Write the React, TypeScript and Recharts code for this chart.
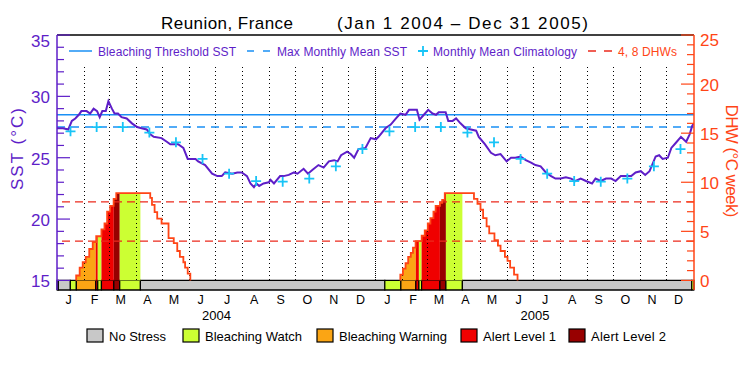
import React from 'react';
import {
  ComposedChart,
  XAxis,
  YAxis,
  Line,
  Area,
  ReferenceLine,
  ReferenceArea,
} from 'recharts';

const FONT = '"Liberation Sans", Arial, sans-serif';
const PURPLE = '#5e1ec8';
const BLUE = '#1a90f5';
const CYAN = '#17c4f7';
const DHW_COLOR = '#ff4516';
const DHW_DASH = '#ec2a1c';

// calendar
const monthLetters = ['J', 'F', 'M', 'A', 'M', 'J', 'J', 'A', 'S', 'O', 'N', 'D'];
const daysInMonth2004 = [31, 29, 31, 30, 31, 30, 31, 31, 30, 31, 30, 31];
const daysInMonth2005 = [31, 28, 31, 30, 31, 30, 31, 31, 30, 31, 30, 31];
const yearLabels = ['2004', '2005'];

// [day since Jan 1 2004, SST °C]
const sstReadings = [
  [0, 27.4], [7, 27.4], [13, 27.3], [17, 28.0], [21, 28.2], [25, 28.5], [28, 28.8], [34, 28.8],
  [38, 28.6], [42, 29.0], [46, 28.8], [49, 28.3], [52, 28.8], [56, 28.8], [59, 29.6], [63, 29.0],
  [66, 28.6], [70, 28.6], [74, 28.3], [80, 28.2], [86, 27.8], [92, 27.5], [97, 27.4], [103, 27.3],
  [107, 26.9], [111, 26.7], [120, 26.6], [126, 26.3], [130, 26.1], [139, 26.1], [145, 25.8], [150, 24.9],
  [159, 24.9], [162, 24.7], [170, 24.4], [178, 23.7], [184, 23.5], [189, 23.5], [193, 23.8], [201, 23.7],
  [207, 23.8], [212, 23.8], [218, 23.5], [222, 22.9], [226, 22.6], [229, 22.9], [232, 22.7], [237, 22.9],
  [243, 23.0], [245, 23.2], [249, 22.9], [256, 23.5], [260, 23.5], [266, 23.6], [272, 23.8], [276, 23.7],
  [283, 24.1], [288, 23.7], [293, 24.0], [300, 24.4], [306, 24.2], [312, 24.7], [318, 24.8], [322, 24.7],
  [326, 25.2], [333, 25.5], [337, 25.3], [341, 25.0], [346, 25.7], [354, 25.8], [360, 26.6], [366, 26.5],
  [369, 26.7], [377, 27.4], [383, 27.7], [389, 28.2], [394, 28.6], [400, 28.5], [404, 28.9], [413, 28.9],
  [416, 28.1], [421, 28.5], [426, 28.9], [431, 28.6], [435, 28.5], [438, 28.7], [446, 28.7], [449, 28.0],
  [454, 28.0], [458, 28.2], [463, 27.8], [469, 27.4], [475, 27.3], [481, 27.2], [484, 26.7], [491, 26.1],
  [498, 25.4], [503, 25.2], [509, 25.3], [516, 24.7], [521, 25.0], [526, 25.0], [532, 25.1], [538, 24.8],
  [544, 24.6], [549, 24.4], [555, 24.3], [561, 23.8], [567, 23.5], [572, 23.3], [578, 23.3], [584, 23.4],
  [590, 23.3], [595, 23.1], [601, 23.3], [607, 23.1], [614, 22.9], [618, 23.3], [624, 23.1], [630, 23.3],
  [636, 23.3], [641, 23.1], [647, 23.5], [653, 23.5], [659, 23.5], [664, 23.8], [670, 23.9], [675, 23.6],
  [680, 23.9], [687, 25.1], [691, 25.2], [695, 24.9], [701, 25.0], [705, 25.8], [710, 26.2], [716, 26.7],
  [722, 26.3], [726, 26.9], [729, 27.6], [731, 27.8],
];

// monthly mean climatology, Jan..Dec
const climatology = [27.15, 27.5, 27.5, 27.05, 26.25, 24.9, 23.7, 23.1, 23.05, 23.3, 24.3, 25.7];
const bleachingThreshold = 28.5;
const maxMonthlyMean = 27.5;
const dhwLevels = [4, 8];

// [day, DHW] held until the next step
const dhwSteps = [
  [0, 0], [22, 0.5], [26, 1.3], [29.5, 1.85], [33, 2.4], [37, 3.2], [41, 3.9], [45, 4.5],
  [51, 5.2], [54.5, 5.8], [57.5, 7.0], [61, 7.6], [65, 8.3], [68, 8.9], [107, 8.4], [109, 7.7],
  [112, 6.95], [115, 6.3], [120, 5.8], [128, 4.3], [134, 3.8], [138, 3.0], [141, 2.4], [145, 1.85],
  [147, 1.3], [150, 0.7], [153, 0],
  [394, 0.6], [397, 1.2], [400, 1.75], [403, 2.4], [406, 2.8], [408.5, 3.35], [411.5, 4.0],
  [418.5, 4.55], [422, 5.1], [425.5, 5.8], [428.5, 6.35], [432, 7.0], [434.5, 7.6], [439.5, 7.9],
  [442, 8.2], [445, 8.9], [478.5, 8.3], [482.5, 7.8], [486, 7.2], [489, 6.35], [493, 5.5],
  [496, 4.8], [502, 4.1], [506, 3.55], [509, 3.0], [514, 2.4], [517, 2.0], [520, 1.3],
  [524.5, 0.6], [528.5, 0],
];

const statusNames = ['No Stress', 'Bleaching Watch', 'Bleaching Warning', 'Alert Level 1', 'Alert Level 2'];
const statusColors = ['#c8c8c8', '#ccff33', '#fba514', '#f00000', '#980000'];
// [start day, status level]
const statusSegments = [
  [0, 1], [1.5, 0], [15.3, 1], [22.2, 2], [44.5, 3], [46.8, 1], [51, 3], [65.2, 4], [72, 1],
  [95.7, 0], [376.2, 1], [394.6, 2], [411.8, 3], [415.3, 1], [418.4, 3], [439.4, 4], [446.3, 1],
  [465.2, 0], [728.4, 1],
];

const SST_DOMAIN = [14.22, 35];
const DHW_DOMAIN = [-0.975, 25];

// derived tables
const monthLengths = [...daysInMonth2004, ...daysInMonth2005];
const monthEdges = monthLengths.reduce((acc, n) => [...acc, acc[acc.length - 1] + n], [0]);
const totalDays = monthEdges[monthEdges.length - 1];
const monthMids = monthLengths.map((n, i) => monthEdges[i] + n / 2);
const yearMids = [monthEdges[12] / 2, (monthEdges[12] + monthEdges[24]) / 2];
const xTicks = [...monthMids, ...yearMids];

const sstData = sstReadings.map(([x, v]) => ({ x, v }));
const climData = monthMids.map((x, i) => ({ x, v: climatology[i % 12] }));

const dhwAt = (x) => {
  let v = 0;
  dhwSteps.forEach(([d, val]) => {
    if (d <= x) v = val;
  });
  return v;
};

// one line per heating event, starting from the zero baseline
const dhwEvents = [];
let current = null;
dhwSteps.forEach(([d, v]) => {
  if (v > 0 && !current) {
    current = [{ x: d, v: 0 }, { x: d, v }];
    dhwEvents.push(current);
  } else if (current) {
    current.push({ x: d, v });
    if (v === 0) current = null;
  }
});

const statusEnds = [...statusSegments.slice(1).map((s) => s[0]), totalDays];
const fillSegments = statusSegments
  .map(([start, level], i) => {
    const end = statusEnds[i];
    const pts = [{ x: start, v: dhwAt(start) }];
    dhwSteps.forEach(([d, v]) => {
      if (d > start && d < end) pts.push({ x: d, v });
    });
    pts.push({ x: end, v: dhwAt(end - 1e-6) });
    return { level, pts };
  })
  .filter((s) => s.level > 0 && s.pts.some((p) => p.v > 0));

const sstTicks = Array.from({ length: 21 }, (_, i) => 15 + i);
const dhwTicks = Array.from({ length: 26 }, (_, i) => i);

function SstTick({ x, y, payload }) {
  const v = payload.value;
  const major = v % 5 === 0;
  return (
    <g>
      <line x1={x} x2={x + (major ? 13 : 7)} y1={y} y2={y} stroke={PURPLE} strokeWidth={1.2} />
      {major && (
        <text x={x - 7} y={y + (v === 35 ? 12 : 7)} textAnchor="end" fontFamily={FONT} fontSize={17} fill={PURPLE}>
          {v}
        </text>
      )}
    </g>
  );
}

function DhwTick({ x, y, payload }) {
  const v = payload.value;
  const major = v % 5 === 0;
  return (
    <g>
      <line x1={x} x2={x - (major ? 13 : 7)} y1={y} y2={y} stroke={DHW_COLOR} strokeWidth={1.2} />
      {major && (
        <text x={x + 6} y={y + (v === 25 ? 11 : 7)} textAnchor="start" fontFamily={FONT} fontSize={17} fill={DHW_COLOR}>
          {v}
        </text>
      )}
    </g>
  );
}

function XTick({ x, y, payload }) {
  const m = monthMids.indexOf(payload.value);
  if (m >= 0) {
    return (
      <text x={x - 2} y={y + 14} textAnchor="middle" fontFamily={FONT} fontSize={12.5} fill="#000">
        {monthLetters[m % 12]}
      </text>
    );
  }
  const yi = yearMids.indexOf(payload.value);
  return (
    <text x={x} y={y + 30} textAnchor="middle" fontFamily={FONT} fontSize={13} fill="#000">
      {yearLabels[yi]}
    </text>
  );
}

const plusDot = (props) => {
  const { cx, cy, index } = props;
  return (
    <path
      key={`clim-${index}`}
      d={`M${cx - 5},${cy}h10M${cx},${cy - 5}v10`}
      stroke={CYAN}
      strokeWidth={1.8}
      fill="none"
    />
  );
};

const statusLegendX = [87, 183, 317, 461, 569];
const statusLegendW = [57, 97, 108, 73, 75];

function Annotations() {
  const t = { fontFamily: FONT };
  return (
    <svg width={750} height={375} style={{ position: 'absolute', left: 0, top: 0, pointerEvents: 'none' }}>
      <text {...t} x={161} y={29} fontSize={17} fill="#000" textLength={132}>Reunion, France</text>
      <text {...t} x={337} y={29} fontSize={17} fill="#000" textLength={251}>(Jan 1 2004 – Dec 31 2005)</text>

      <line x1={69} x2={92} y1={51} y2={51} stroke={BLUE} strokeWidth={1.5} />
      <text {...t} x={98} y={55.5} fontSize={12} fill={PURPLE} textLength={138}>Bleaching Threshold SST</text>
      <line x1={247} x2={271} y1={51} y2={51} stroke={BLUE} strokeWidth={1.5} strokeDasharray="7 9" />
      <text {...t} x={277} y={55.5} fontSize={12} fill={PURPLE} textLength={130}>Max Monthly Mean SST</text>
      <path d="M418,51h10M423,46v10" stroke={CYAN} strokeWidth={1.8} />
      <text {...t} x={433} y={55.5} fontSize={12} fill={PURPLE} textLength={144}>Monthly Mean Climatology</text>
      <line x1={588} x2={612} y1={51} y2={51} stroke={DHW_DASH} strokeWidth={1.5} strokeDasharray="8 8" />
      <text {...t} x={618} y={55.5} fontSize={12} fill={DHW_COLOR} textLength={59}>4, 8 DHWs</text>

      <text {...t} x={17} y={149} fontSize={17} fill={PURPLE} textAnchor="middle" dominantBaseline="central"
        transform="rotate(-90 17 149)" textLength={82}>SST (°C)</text>
      <text {...t} x={731} y={161} fontSize={17} fill={DHW_COLOR} textAnchor="middle" dominantBaseline="central"
        transform="rotate(90 731 161)" textLength={113}>DHW (°C week)</text>

      {statusNames.map((name, i) => (
        <g key={name}>
          <rect x={statusLegendX[i]} y={329} width={16} height={13} fill={statusColors[i]} stroke="#000" strokeWidth={1.2} />
          <text {...t} x={statusLegendX[i] + 22} y={341} fontSize={13} fill="#000" textLength={statusLegendW[i]}>
            {name}
          </text>
        </g>
      ))}
    </svg>
  );
}

export default function App() {
  return (
    <div style={{ position: 'absolute', left: 0, top: 0, width: 750, height: 375, background: '#fff' }}>
      <ComposedChart width={750} height={375} margin={{ top: 35, right: 0, bottom: 25, left: 0 }}>
        <XAxis
          dataKey="x"
          type="number"
          domain={[0, totalDays]}
          allowDataOverflow
          ticks={xTicks}
          interval={0}
          tickSize={0}
          tickMargin={0}
          tickLine={false}
          axisLine={{ stroke: '#000', strokeWidth: 1.2 }}
          tick={(p) => <XTick {...p} />}
          height={60}
        />
        <YAxis
          yAxisId="sst"
          orientation="left"
          type="number"
          width={57}
          domain={SST_DOMAIN}
          allowDataOverflow
          ticks={sstTicks}
          interval={0}
          tickSize={0}
          tickMargin={0}
          tickLine={false}
          axisLine={{ stroke: PURPLE, strokeWidth: 1.5 }}
          tick={(p) => <SstTick {...p} />}
        />
        <YAxis
          yAxisId="dhw"
          orientation="right"
          type="number"
          width={56}
          domain={DHW_DOMAIN}
          allowDataOverflow
          ticks={dhwTicks}
          interval={0}
          tickSize={0}
          tickMargin={0}
          tickLine={false}
          axisLine={{ stroke: DHW_COLOR, strokeWidth: 1.5 }}
          tick={(p) => <DhwTick {...p} />}
        />

        {statusSegments.map(([start, level], i) => (
          <ReferenceArea
            key={`status-${i}`}
            yAxisId="dhw"
            x1={start}
            x2={statusEnds[i]}
            y1={DHW_DOMAIN[0]}
            y2={0}
            fill={statusColors[level]}
            fillOpacity={1}
            stroke="#000"
            strokeWidth={1.2}
            ifOverflow="visible"
          />
        ))}

        {fillSegments.map((seg, i) => (
          <Area
            key={`fill-${i}`}
            data={seg.pts}
            dataKey="v"
            yAxisId="dhw"
            type="stepAfter"
            baseValue={0}
            stroke="none"
            fill={statusColors[seg.level]}
            fillOpacity={1}
            isAnimationActive={false}
            activeDot={false}
          />
        ))}

        {monthEdges.slice(1, -1).map((d, i) => (
          <ReferenceLine
            key={`month-${i}`}
            yAxisId="sst"
            segment={[{ x: d, y: 15 }, { x: d, y: 32.5 }]}
            stroke="#000"
            strokeWidth={1}
            shapeRendering="crispEdges"
            strokeDasharray={i === 11 ? '1 1' : '1 3'}
          />
        ))}
        <ReferenceLine yAxisId="sst" y={35} stroke="#000" strokeWidth={1.5} />
        <ReferenceLine yAxisId="sst" y={bleachingThreshold} stroke={BLUE} strokeWidth={1.5} />
        <ReferenceLine yAxisId="sst" y={maxMonthlyMean} stroke={BLUE} strokeWidth={1.5} strokeDasharray="8 6" />
        {dhwLevels.map((lv) => (
          <ReferenceLine key={`lv-${lv}`} yAxisId="dhw" y={lv} stroke={DHW_DASH} strokeWidth={1.3} strokeDasharray="8 5" />
        ))}

        {dhwEvents.map((ev, i) => (
          <Line
            key={`dhw-${i}`}
            data={ev}
            dataKey="v"
            yAxisId="dhw"
            type="stepAfter"
            stroke={DHW_COLOR}
            strokeWidth={1.8}
            dot={false}
            activeDot={false}
            isAnimationActive={false}
          />
        ))}
        <Line
          data={sstData}
          dataKey="v"
          yAxisId="sst"
          type="linear"
          stroke={PURPLE}
          strokeWidth={2}
          dot={false}
          activeDot={false}
          isAnimationActive={false}
        />
        <Line
          data={climData}
          dataKey="v"
          yAxisId="sst"
          stroke="none"
          dot={plusDot}
          activeDot={false}
          isAnimationActive={false}
        />
      </ComposedChart>
      <Annotations />
    </div>
  );
}
